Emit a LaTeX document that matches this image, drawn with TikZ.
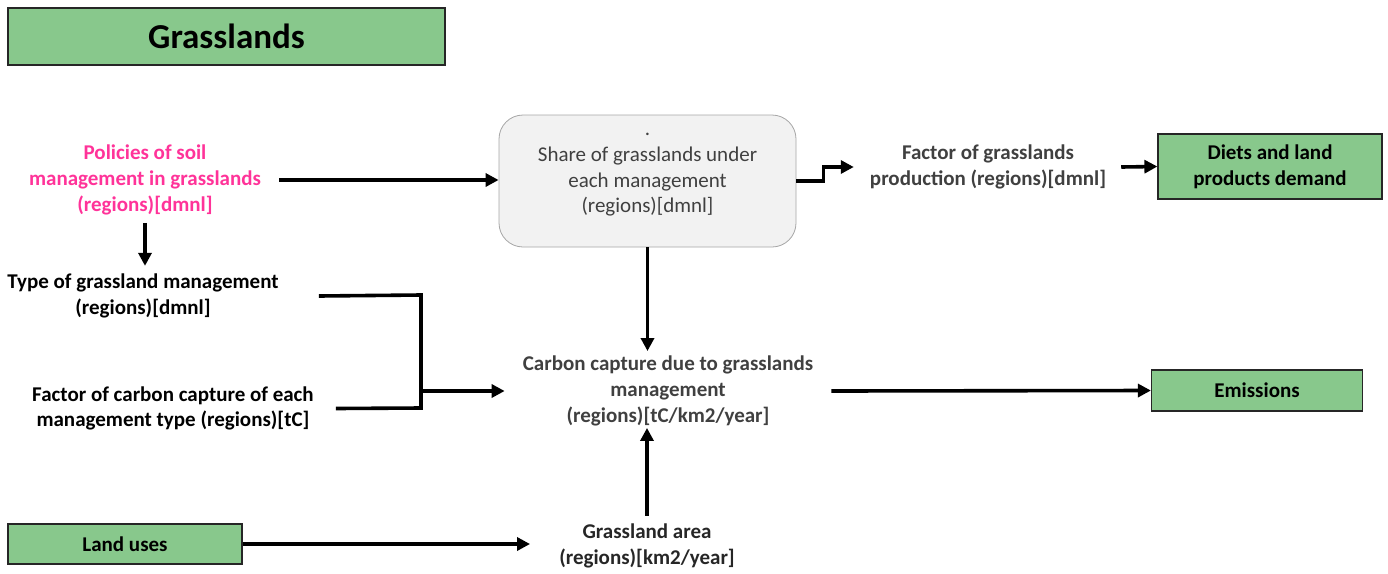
\documentclass[tikz,border=0pt]{standalone}
\usepackage{fontspec}
\setmainfont{Carlito}
\usetikzlibrary{arrows.meta}
\definecolor{boxgreen}{RGB}{136,200,140}
\definecolor{policypink}{RGB}{255,51,153}
\definecolor{softgray}{RGB}{242,242,242}
\definecolor{edgegray}{RGB}{166,166,166}
\definecolor{textgray}{RGB}{64,64,64}
\tikzset{
  body/.style={font=\fontsize{21}{25.6}\selectfont\bfseries, align=center, inner sep=0pt},
  plain/.style={font=\fontsize{21}{25.6}\selectfont, align=center, inner sep=0pt, text=textgray},
  greenbox/.style={draw=black!85, line width=1.2pt, fill=boxgreen, inner sep=0pt,
    font=\fontsize{21}{25.6}\selectfont\bfseries, align=center},
  link/.style={line width=3.6pt},
  arr/.style={line width=3.6pt, -{Triangle[length=13pt,width=13pt]}}
}
\begin{document}
\begin{tikzpicture}[x=1pt,y=-1pt]
\useasboundingbox (0,0) rectangle (1388,573);

% header
\node[greenbox, minimum width=437, minimum height=57,
      font=\fontsize{35}{40}\selectfont\bfseries] (title) at (226.5,36.5) {Grasslands};

% left column
\node[body, text=policypink] (pol) at (145,180)
  {Policies of soil\\management in grasslands\\(regions)[dmnl]};
\node[body] (type) at (143,296)
  {Type of grassland management\\(regions)[dmnl]};
\node[body] (fcc) at (173,408.5)
  {Factor of carbon capture of each\\management type (regions)[tC]};
\node[greenbox, minimum width=234, minimum height=40] (land) at (125,544) {Land uses};

% centre column
\node[draw=edgegray, line width=0.8pt, fill=softgray, rounded corners=24pt,
      minimum width=297, minimum height=132] (share) at (647.5,181) {};
\node[plain] (sharetxt) at (647.5,175)
  {.\\Share of grasslands under\\each management\\(regions)[dmnl]};
\node[body, text=textgray] (carbon) at (668,391)
  {Carbon capture due to grasslands\\management\\(regions)[tC/km2/year]};
\node[body, text=black!85] (area) at (647,546)
  {Grassland area\\(regions)[km2/year]};

% right column
\node[body, text=textgray] (fac) at (988,167)
  {Factor of grasslands\\production (regions)[dmnl]};
\node[greenbox, minimum width=224, minimum height=65] (diets) at (1270,166.5)
  {Diets and land\\products demand};
\node[greenbox, minimum width=211, minimum height=41] (emis) at (1257,390.5) {Emissions};

% bracket joining the two management inputs
\coordinate (bt) at (421,295);
\coordinate (bb) at (421,408);
\coordinate (brk) at (421,391);

% connectors
\draw[arr] ([xshift=18pt]pol.east) -- (pol.east -| share.west);
\draw[arr] ([yshift=-8pt]pol.south) -- ([yshift=8pt]type.north -| pol.south);
\draw[link] ([xshift=40pt]type.east) -- (bt) -- (bb) -- ([xshift=22pt]fcc.east);
\draw[arr] (brk) -- ([xshift=-18pt]carbon.west);
\draw[arr] (share.east) -- ++(27,0) |- ([xshift=-16pt]fac.west);
\draw[arr] ([xshift=15pt]fac.east) -- (diets.west);
\draw[arr] (share.south) -- ([yshift=5pt]carbon.north -| share.south);
\draw[arr] ([xshift=18pt]carbon.east) -- (emis.west);
\draw[arr] (land.east) -- ([xshift=-29pt]area.west |- land.east);
\draw[arr] ([yshift=8pt]area.north) -- ([yshift=-2pt]carbon.south -| area.north);
\end{tikzpicture}
\end{document}
